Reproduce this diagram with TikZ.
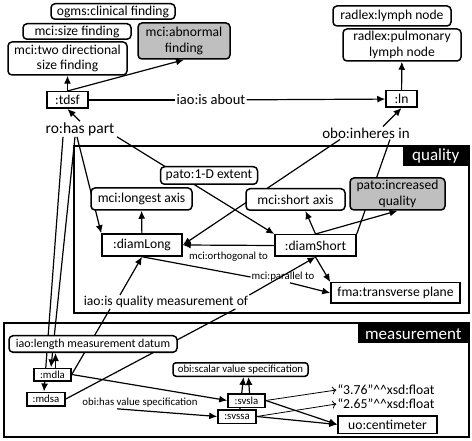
\documentclass[tikz,border=0pt]{standalone}
\usepackage{fontspec}
\setmainfont{Carlito}
\usetikzlibrary{arrows.meta,backgrounds}
\definecolor{findgray}{gray}{0.75}
\newcommand{\bigsz}{\fontsize{13.6}{15.5}\selectfont}
\newcommand{\midsz}{\fontsize{12}{14}\selectfont}
\newcommand{\smlsz}{\fontsize{10.8}{12.5}\selectfont}
\newcommand{\tagsz}{\fontsize{17}{18}\selectfont}
\begin{document}
\begin{tikzpicture}[x=1pt,y=-1pt,
  cls/.style={draw, fill=white, rounded corners=4pt, line width=1.5pt, inner sep=1pt, align=center, font=\bigsz},
  inst/.style={draw, fill=white, line width=1.5pt, inner sep=1pt, font=\bigsz},
  lbl/.style={inner sep=1pt, font=\bigsz},
  tag/.style={fill=black, text=white, anchor=north east, inner sep=1pt, font=\tagsz},
  frame/.style={line width=2pt},
  line/.style={line width=1.2pt},
  edge/.style={line width=1.2pt, -{Latex[length=8pt,width=7pt]}},
  val/.style={line width=0.8pt, -{To[length=4pt,width=8pt]}}]
\useasboundingbox (0,0) rectangle (472,441);
% Frames
\draw[frame] (74,146) rectangle (469,313);
\node[tag, minimum width=66pt, minimum height=20pt] (qtag) at (469,146) {quality};
\draw[frame] (4,323) rectangle (469,437);
\node[tag, minimum width=111pt, minimum height=19pt] (mtag) at (469,324) {measurement};
% Finding classes
\node[cls, minimum width=124pt, minimum height=15.5pt] (clin) at (113,11.5) {ogms:clinical finding};
\node[cls, minimum width=108pt, minimum height=15.5pt] (size) at (77,31.5) {mci:size finding};
\node[cls, fill=findgray, minimum width=92pt, minimum height=36pt] (abn) at (184,41) {mci:abnormal\\finding};
\node[cls, minimum width=119pt, minimum height=33pt] (twodir) at (67.5,58.5) {mci:two directional\\size finding};
\node[inst, minimum width=41pt, minimum height=16.5pt] (tdsf) at (67.5,100) {:tdsf};
% Lymph node
\node[cls, minimum width=118pt, minimum height=20pt] (lymph) at (392,16) {radlex:lymph node};
\node[cls, minimum width=118pt, minimum height=32pt] (pulm) at (402,45) {radlex:pulmonary\\lymph node};
\node[inst, minimum width=31pt, minimum height=16.5pt] (ln) at (401.5,99) {:ln};
% Quality
\node[cls, minimum width=97pt, minimum height=17.5pt] (onedext) at (209,175.5) {pato:1-D extent};
\node[cls, minimum width=101pt, minimum height=22pt] (longax) at (141.5,199) {mci:longest axis};
\node[cls, minimum width=99pt, minimum height=21.5pt] (shortax) at (295.5,199.5) {mci:short axis};
\node[cls, fill=findgray, minimum width=95pt, minimum height=32pt] (incq) at (397.5,194) {pato:increased\\quality};
\node[inst, minimum width=80pt, minimum height=22pt] (dlong) at (142,245) {:diamLong};
\node[inst, minimum width=81pt, minimum height=21.5pt] (dshort) at (315.5,245.5) {:diamShort};
\node[inst, minimum width=129pt, minimum height=20.5pt] (fma) at (395.5,293) {fma:transverse plane};
% Measurement
\node[cls, font=\midsz, minimum width=168pt, minimum height=16.5pt] (datum) at (93,344) {iao:length measurement datum};
\node[inst, font=\smlsz, minimum width=37pt, minimum height=12.5pt] (mdla) at (52.5,374.5) {:mdla};
\node[inst, font=\smlsz, minimum width=38pt, minimum height=13.5pt] (mdsa) at (46,399) {:mdsa};
\node[cls, font=\smlsz, rounded corners=3pt, minimum width=135pt, minimum height=13.5pt] (scalar) at (240.5,369.5) {obi:scalar value specification};
\node[inst, font=\smlsz, minimum width=37pt, minimum height=13.5pt] (svsla) at (246.5,400.5) {:svsla};
\node[inst, font=\smlsz, minimum width=38pt, minimum height=13.5pt] (svssa) at (237,416.5) {:svssa};
\node[inst, minimum width=99pt, minimum height=17.5pt] (cm) at (387.5,424.5) {uo:centimeter};
\node[lbl, font=\fontsize{13.7}{15}\selectfont] (v1) at (386,390) {“3.76”\textasciicircum\textasciicircum xsd:float};
\node[lbl, font=\fontsize{13.7}{15}\selectfont] (v2) at (386,404) {“2.65”\textasciicircum\textasciicircum xsd:float};
% Edge labels
\node[lbl, font=\fontsize{15.5}{17}\selectfont] (hasp) at (80,129) {ro:has part};
\node[lbl, font=\fontsize{14.5}{16}\selectfont] (about) at (211,100) {iao:is about};
\node[lbl, font=\fontsize{15}{17}\selectfont] (inh) at (366,133) {obo:inheres in};
\node[lbl, font=\smlsz] (parlbl) at (283,277) {mci:parallel to};
\node[lbl] (qmlbl) at (166,302) {iao:is quality measurement of};
\node[lbl, font=\smlsz] (hvslbl) at (140,403) {obi:has value specification};
\coordinate (mdlatop) at ([xshift=3pt]mdla.north);
\begin{pgfonlayer}{background}
% Finding and lymph node edges
\draw[edge] (tdsf) -- (twodir);
\draw[edge] (tdsf.north) -- (abn.south);
\draw[line] (tdsf) -- (about);
\draw[edge] (about) -- (ln);
\draw[edge] (ln) -- (pulm);
% Has part
\draw[edge] (hasp.north) -- (tdsf.south);
\draw[edge] ([xshift=-17pt]hasp.south) -- ([xshift=-2pt]mdsa.north);
\draw[edge] ([xshift=-5pt]hasp.south) -- ([xshift=-1.5pt]mdla.north);
\draw[edge] ([xshift=-3pt]hasp.south) -- (dlong.north west);
\draw[edge] ([xshift=37pt]hasp.south) -- (dshort.north west);
% Inheres in
\draw[edge] ([xshift=17pt]inh.north) -- (ln.south);
\draw[edge] ([xshift=-26pt]inh.south) -- (dlong.east);
\draw[line] ([xshift=24pt]inh.south) -- (dshort.north east);
% Quality edges
\draw[edge] (dlong) -- (longax);
\draw[edge] (dshort.north) -- ([xshift=10pt]shortax.south);
\draw[edge] (dshort.north) -- (incq.south);
\draw[edge] (dshort.west) -- (dlong.east) node[lbl, font=\smlsz, midway, below=5pt] (orthlbl) {mci:orthogonal to};
\draw[line] (dlong.south) -- (parlbl.west);
\draw[edge] ([xshift=7pt]parlbl.south) -- (fma.west);
\draw[edge] (dshort.south) -- (fma.north west);
% Quality measurement of
\draw[line] (mdla.east) -- ([xshift=-56pt]qmlbl.south);
\draw[edge] ([xshift=-46pt]qmlbl.north) -- (dlong.south);
\draw[line] (mdsa.east) -- ([xshift=-14pt]qmlbl.south east);
\draw[edge] (qmlbl.north east) -- (dshort.south);
% Measurement edges
\draw[edge] (mdlatop) -- (mdlatop |- datum.south);
\draw[edge] (mdla.east) -- (svsla.west);
\draw[edge] ([xshift=-23pt]hvslbl.south) -- (svssa.west);
\draw[edge] ([xshift=3pt]svsla.north) -- ([xshift=8pt]scalar.south);
\draw[edge] ([xshift=3pt]svssa.north) -- ([xshift=3pt]scalar.south);
\draw[val] (svsla.east) -- (v1.west);
\draw[val] (svssa.east) -- (v2.west);
\draw[edge] (svsla.east) -- (cm.west);
\draw[edge] (svssa.east) -- (cm.west);
\end{pgfonlayer}
\end{tikzpicture}
\end{document}
